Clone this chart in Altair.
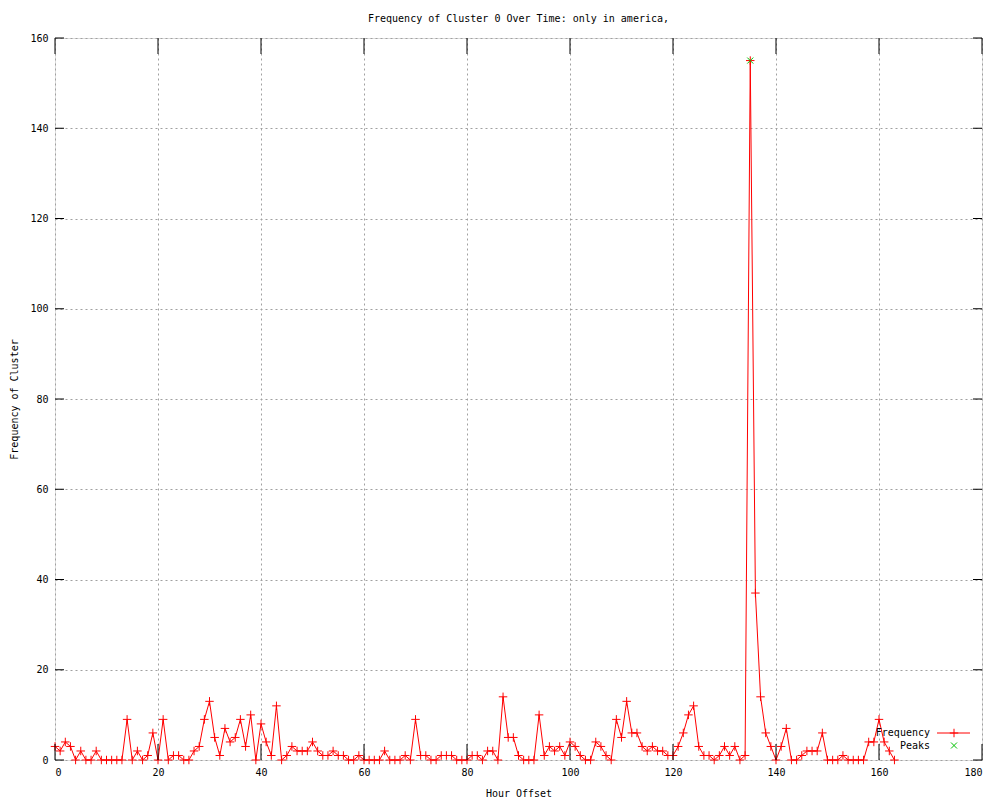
import altair as alt
import pandas as pd

# ---- data ----
hours = list(range(164))
freq = [
    3, 2, 4, 3, 0, 2, 0, 0, 2, 0,      # 0-9
    0, 0, 0, 0, 9, 0, 2, 0, 1, 6,      # 10-19
    0, 9, 0, 1, 1, 0, 0, 2, 3, 9,      # 20-29
    13, 5, 1, 7, 4, 5, 9, 3, 10, 0,    # 30-39
    8, 4, 1, 12, 0, 1, 3, 2, 2, 2,     # 40-49
    4, 2, 1, 1, 2, 1, 1, 0, 0, 1,      # 50-59
    0, 0, 0, 0, 2, 0, 0, 0, 1, 0,      # 60-69
    9, 1, 1, 0, 0, 1, 1, 1, 0, 0,      # 70-79
    0, 1, 1, 0, 2, 2, 0, 14, 5, 5,     # 80-89
    1, 0, 0, 0, 10, 1, 3, 2, 3, 1,     # 90-99
    4, 3, 1, 0, 0, 4, 3, 1, 0, 9,      # 100-109
    5, 13, 6, 6, 3, 2, 3, 2, 2, 1,     # 110-119
    1, 3, 6, 10, 12, 3, 1, 1, 0, 1,    # 120-129
    3, 1, 3, 0, 1, 155, 37, 14, 6, 3,  # 130-139
    0, 3, 7, 0, 0, 1, 2, 2, 2, 6,      # 140-149
    0, 0, 0, 1, 0, 0, 0, 0, 4, 4,      # 150-159
    9, 4, 2, 0,                        # 160-163
]
peak_hours = [135]
peak_values = [155]
x_ticks = [0, 20, 40, 60, 80, 100, 120, 140, 160, 180]
y_ticks = [0, 20, 40, 60, 80, 100, 120, 140, 160]
legend_labels = ["Frequency", "Peaks"]

title_text = "Frequency of Cluster 0 Over Time: only in america,"

FONT = "DejaVu Sans Mono"
RED = "#ff0000"
GREEN = "#00c000"
W, H = 927, 722
PLUS = "M-1,0L1,0M0,-1L0,1"
CROSS = "M-1,-1L1,1M-1,1L1,-1"

df = pd.DataFrame({"hour": hours, "freq": freq})
peaks = pd.DataFrame({"hour": peak_hours, "freq": peak_values})
xt = pd.DataFrame({"hour": x_ticks})
yt = pd.DataFrame({"freq": y_ticks})

xs = alt.Scale(domain=[0, 180], nice=False, zero=False)
ys = alt.Scale(domain=[0, 160], nice=False, zero=False)

x_axis = alt.Axis(values=x_ticks, title="Hour Offset", labelPadding=7,
                  titlePadding=11, tickSize=0)
y_axis = alt.Axis(values=y_ticks, title="Frequency of Cluster", labelPadding=7,
                  titlePadding=10, tickSize=0)

line = alt.Chart(df).mark_line(color=RED, strokeWidth=1).encode(
    x=alt.X("hour:Q", scale=xs, axis=x_axis),
    y=alt.Y("freq:Q", scale=ys, axis=y_axis),
)

pts = alt.Chart(df).mark_point(shape=PLUS, size=72, stroke=RED, strokeWidth=1,
                               filled=False, opacity=1).encode(
    x=alt.X("hour:Q", scale=xs), y=alt.Y("freq:Q", scale=ys))

peak_pts = alt.Chart(peaks).mark_point(shape=CROSS, size=36, stroke=GREEN,
                                       strokeWidth=1, filled=False, opacity=1).encode(
    x=alt.X("hour:Q", scale=xs), y=alt.Y("freq:Q", scale=ys))

# inward ticks on all four sides (gnuplot style)
tb = alt.Chart(xt).mark_rule(color="black", strokeWidth=1).encode(
    x=alt.X("hour:Q", scale=xs), y=alt.value(H), y2=alt.value(H - 16))
tt = alt.Chart(xt).mark_rule(color="black", strokeWidth=1).encode(
    x=alt.X("hour:Q", scale=xs), y=alt.value(0), y2=alt.value(16))
tl = alt.Chart(yt).mark_rule(color="black", strokeWidth=1).encode(
    y=alt.Y("freq:Q", scale=ys), x=alt.value(0), x2=alt.value(9))
tr = alt.Chart(yt).mark_rule(color="black", strokeWidth=1).encode(
    y=alt.Y("freq:Q", scale=ys), x=alt.value(W), x2=alt.value(W - 9))

# key (bottom right, inside)
leg_df = pd.DataFrame({"label": legend_labels})
leg_text1 = alt.Chart(leg_df).transform_filter(alt.datum.label == "Frequency").mark_text(
    align="right", baseline="middle", font=FONT, fontSize=10, color="black").encode(
    text="label:N", x=alt.value(875), y=alt.value(695))
leg_text2 = alt.Chart(leg_df).transform_filter(alt.datum.label == "Peaks").mark_text(
    align="right", baseline="middle", font=FONT, fontSize=10, color="black").encode(
    text="label:N", x=alt.value(875), y=alt.value(707.5))
leg_line = alt.Chart(leg_df).transform_filter(alt.datum.label == "Frequency").mark_rule(
    color=RED, strokeWidth=1).encode(x=alt.value(882), x2=alt.value(915), y=alt.value(695))
leg_plus = alt.Chart(leg_df).transform_filter(alt.datum.label == "Frequency").mark_point(
    shape=PLUS, size=72, stroke=RED, strokeWidth=1, filled=False, opacity=1).encode(
    x=alt.value(899), y=alt.value(695))
leg_x = alt.Chart(leg_df).transform_filter(alt.datum.label == "Peaks").mark_point(
    shape=CROSS, size=36, stroke=GREEN, strokeWidth=1, filled=False, opacity=1).encode(
    x=alt.value(899), y=alt.value(707.5))

chart = alt.layer(
    line, pts, peak_pts, tb, tt, tl, tr,
    leg_text1, leg_text2, leg_line, leg_plus, leg_x,
).properties(
    width=W, height=H,
    title=alt.TitleParams(title_text, font=FONT, fontSize=10, fontWeight="normal",
                          color="black", anchor="middle", offset=9),
    autosize=alt.AutoSizeParams(type="none"),
    padding={"left": 47, "top": 30, "right": 10, "bottom": 40},
).configure_view(
    stroke="black", strokeWidth=1, fill="white"
).configure(
    background="white"
).configure_axis(
    grid=True, gridColor="#a0a0a0", gridDash=[2, 3], gridOpacity=1, gridWidth=1,
    domain=False, ticks=False,
    labelFont=FONT, labelFontSize=10, labelColor="black",
    titleFont=FONT, titleFontSize=10, titleFontWeight="normal", titleColor="black",
)

chart.save("out.html", embed_options={"renderer": "svg", "actions": False})
